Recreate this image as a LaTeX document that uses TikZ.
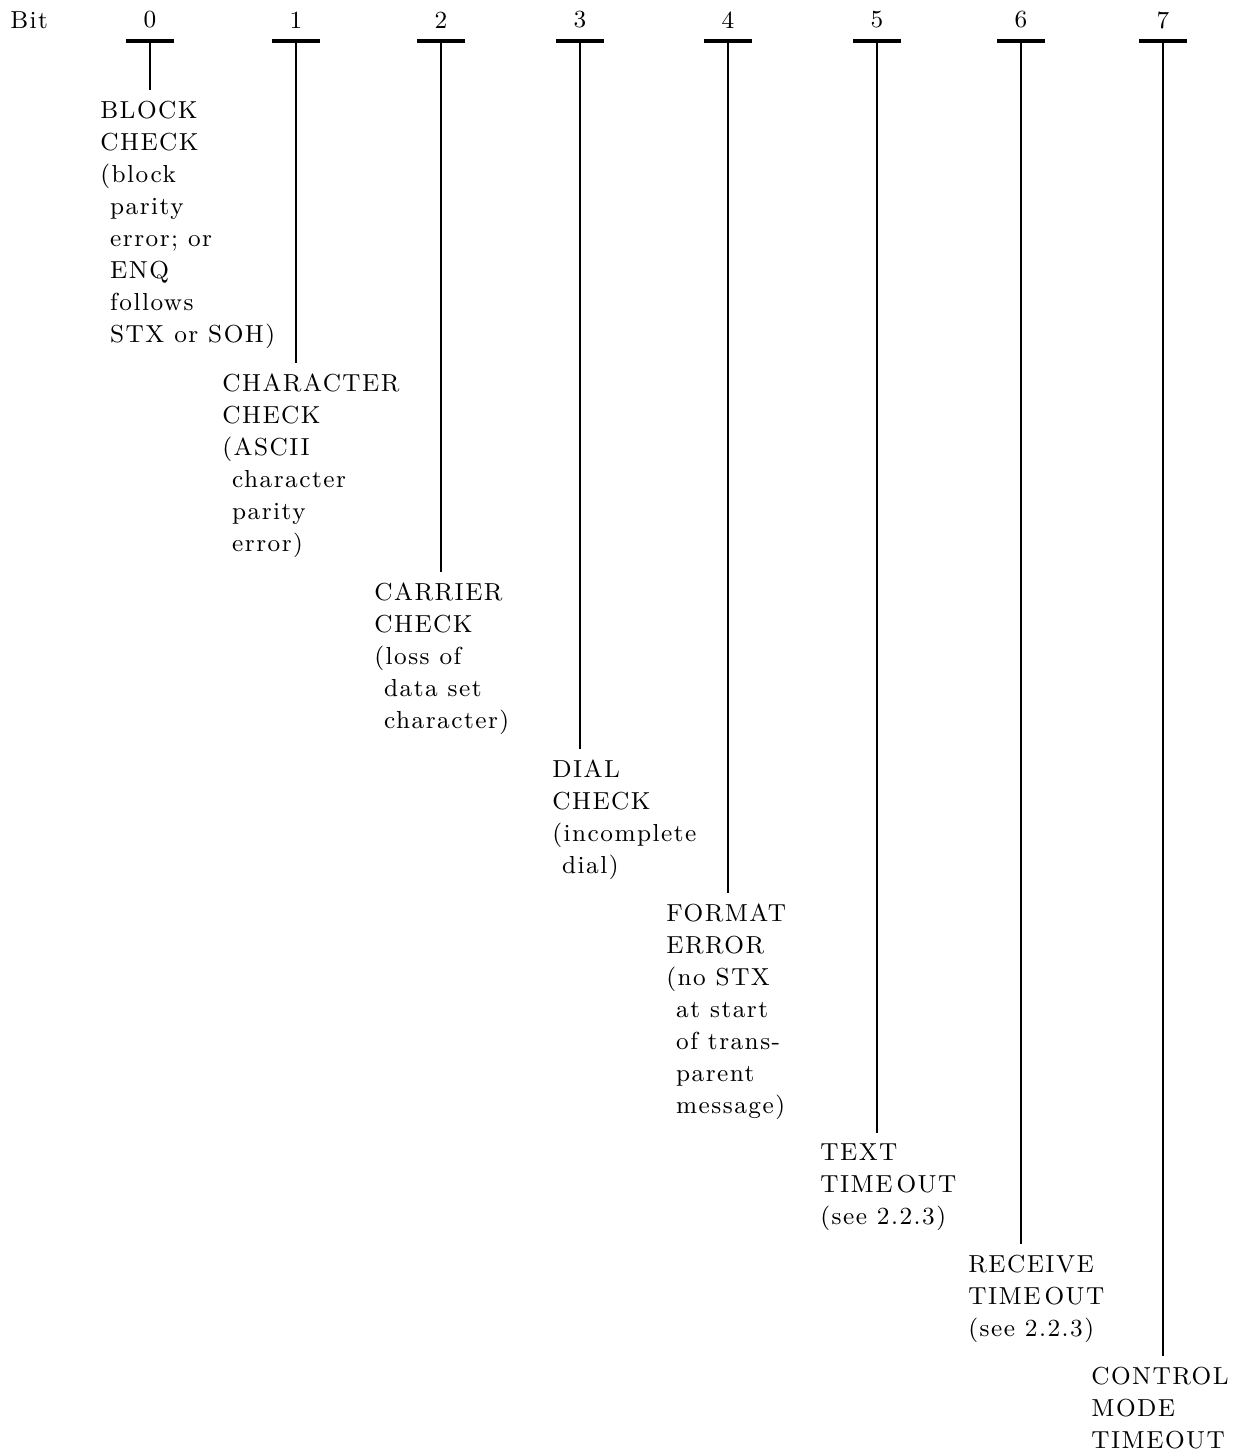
\documentclass[tikz,border=0pt]{standalone}
\usepackage{fontspec}
\setmainfont{lmroman9-regular}[Extension=.otf, LetterSpace=6]
\usepackage{tikz}
\usetikzlibrary{positioning}
\newcommand{\indt}{\phantom{(}}
\tikzset{
  bitnum/.style={inner sep=0pt, font=\fontsize{14}{18.2}\selectfont},
  flag/.style={
    anchor=north west, align=left, inner xsep=0pt, inner ysep=6pt,
    font=\fontsize{14}{18.2}\selectfont
  },
  tbar/.style={line width=1.9pt},
  stem/.style={line width=1.6pt},
  every picture/.append style={x=0.02cm, y=-0.02cm}
}

\begin{document}
\begin{tikzpicture}
  \useasboundingbox (0,0) rectangle (1241,1455);
  \node[bitnum, anchor=west] (bit) at (10,20) {Bit};
  \foreach \i/\x in {0/150,1/296,2/441,3/580,4/728,5/877,6/1021,7/1163} {
    \node[bitnum] (num\i) at (\x,20) {\i};
    \coordinate (top\i) at (\x,41);
    \draw[tbar] (top\i) ++(-24,0) -- ++(48,0);
  }
  % flag descriptions, one per bit
  \node[flag] (lbl0) at (100,90) {BLOCK\\CHECK\\(block\\\indt parity\\\indt error; or\\\indt ENQ\\\indt follows\\\indt STX or SOH)};
  \node[flag] (lbl1) at (222,363) {CHARACTER\\CHECK\\(ASCII\\\indt character\\\indt parity\\\indt error)};
  \node[flag] (lbl2) at (374,572) {CARRIER\\CHECK\\(loss of\\\indt data set\\\indt character)};
  \node[flag] (lbl3) at (552,749) {DIAL\\CHECK\\(incomplete\\\indt dial)};
  \node[flag] (lbl4) at (666,893) {FORMAT\\ERROR\\(no STX\\\indt at start\\\indt of trans-\\\indt parent\\\indt message)};
  \node[flag] (lbl5) at (820,1133) {TEXT\\TIME\,OUT\\(see 2.2.3)};
  \node[flag] (lbl6) at (968,1244) {RECEIVE\\TIME\,OUT\\(see 2.2.3)};
  \node[flag] (lbl7) at (1091,1356) {CONTROL\\MODE\\TIMEOUT};
  \foreach \i in {0,...,7}
    \draw[stem] (top\i) -- (top\i |- lbl\i.north);
\end{tikzpicture}
\end{document}
